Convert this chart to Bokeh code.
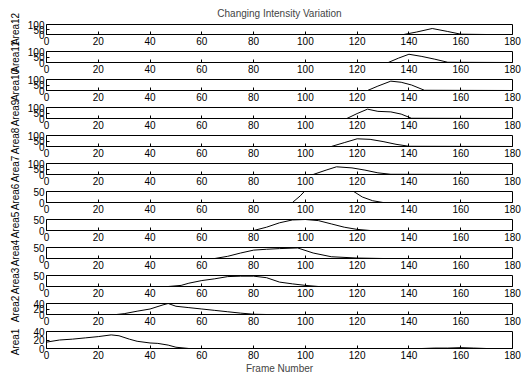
import math
from bokeh.plotting import figure
from bokeh.layouts import column, row
from bokeh.models import Range1d, FixedTicker
from bokeh.embed import file_html
from bokeh.resources import INLINE
from bokeh.core.properties import value

# ---------------- data ----------------
title_text = "Changing Intensity Variation"
x_label = "Frame Number"
x_ticks = [0, 20, 40, 60, 80, 100, 120, 140, 160, 180]

area12_x = [0, 130, 138, 143, 149, 155, 160, 170, 180]
area12_y = [0, 0, 0, 25, 60, 30, 3, 0, 0]
area11_x = [0, 132, 136, 140, 145, 150, 155, 180]
area11_y = [0, 0, 40, 75, 55, 30, 2, 0]
area10_x = [0, 124, 128, 133, 137, 141, 146, 180]
area10_y = [0, 0, 40, 85, 75, 50, 2, 0]
area9_x = [0, 116, 120, 124, 128, 133, 137, 141, 180]
area9_y = [0, 0, 45, 85, 65, 60, 40, 2, 0]
area8_x = [0, 110, 115, 120, 125, 130, 135, 140, 180]
area8_y = [0, 0, 35, 70, 65, 45, 20, 2, 0]
area7_x = [0, 103, 108, 112, 118, 123, 128, 133, 180]
area7_y = [0, 0, 40, 70, 60, 40, 15, 2, 0]
area6_x = [0, 95, 98, 100, 105, 110, 115, 118, 122, 126, 130, 180]
area6_y = [0, 0, 30, 55, 80, 90, 75, 55, 25, 8, 0, 0]
area5_x = [0, 80, 85, 90, 95, 100, 105, 110, 115, 120, 125, 180]
area5_y = [0, 0, 15, 35, 48, 50, 45, 30, 15, 5, 0, 0]
area4_x = [0, 65, 70, 75, 80, 85, 90, 97, 103, 110, 120, 130, 180]
area4_y = [0, 0, 10, 25, 38, 42, 45, 48, 25, 8, 2, 0, 0]
area3_x = [0, 47, 52, 55, 60, 65, 70, 75, 80, 85, 90, 95, 100, 105, 180]
area3_y = [0, 0, 5, 15, 27, 35, 45, 47, 47, 40, 20, 12, 5, 0, 0]
area2_x = [0, 27, 30, 35, 40, 45, 47, 50, 55, 60, 65, 70, 75, 80, 85, 180]
area2_y = [0, 0, 3, 12, 20, 35, 40, 30, 25, 20, 15, 10, 5, 1, 0, 0]
area1_x = [0, 5, 10, 15, 20, 25, 28, 32, 35, 40, 43, 47, 50, 55, 145, 150, 155, 160, 165, 170, 180]
area1_y = [15, 20, 22, 25, 28, 32, 30, 22, 17, 13, 12, 8, 3, 0, 0, 1, 1, 2, 1, 0, 0]

area_names = ["Area12", "Area11", "Area10", "Area9", "Area8", "Area7",
              "Area6", "Area5", "Area4", "Area3", "Area2", "Area1"]
area_xs = [area12_x, area11_x, area10_x, area9_x, area8_x, area7_x,
           area6_x, area5_x, area4_x, area3_x, area2_x, area1_x]
area_ys = [area12_y, area11_y, area10_y, area9_y, area8_y, area7_y,
           area6_y, area5_y, area4_y, area3_y, area2_y, area1_y]
y_limits = [(0, 100)] * 6 + [(0, 50)] * 4 + [(0, 40)] * 2
y_tick_sets = [[0, 50, 100]] * 6 + [[0, 50]] * 4 + [[0, 20, 40]] * 2

# ---------------- layout ----------------
FONT = "Liberation Sans"
FS = "10px"
LABEL_W = 24
PANEL_W = 521 - LABEL_W
BL, BR = 20, 9


def style_axis(ax):
    ax.major_tick_in = 3
    ax.major_tick_out = 0
    ax.minor_tick_in = 0
    ax.minor_tick_out = 0
    ax.axis_line_color = None
    ax.major_tick_line_color = "black"
    ax.major_label_text_font = FONT
    ax.major_label_text_font_size = FS
    ax.major_label_text_color = "black"
    ax.major_label_standoff = 2


panels = []
centers = []
cur = 0
n = len(area_names)
for i in range(n):
    first = (i == 0)
    last = (i == n - 1)
    top = 23 if first else 4
    frame_h = 21 if last else 11
    bottom = 24 if last else 13
    h = top + frame_h + bottom
    centers.append(cur + top + frame_h / 2.0)
    cur += h

    p = figure(width=PANEL_W, height=h,
               x_range=Range1d(0, 180), y_range=Range1d(*y_limits[i]),
               toolbar_location=None, output_backend="svg",
               min_border_left=BL, min_border_right=BR,
               min_border_top=top, min_border_bottom=bottom,
               title=title_text if first else None)
    p.line(area_xs[i], area_ys[i], line_color="black", line_width=1)
    p.grid.visible = False
    p.outline_line_color = "black"
    p.outline_line_width = 1
    p.background_fill_color = "white"
    p.border_fill_color = "white"

    xa = p.xaxis[0]
    ya = p.yaxis[0]
    style_axis(xa)
    style_axis(ya)
    xa.ticker = FixedTicker(ticks=x_ticks)
    ya.ticker = FixedTicker(ticks=y_tick_sets[i])

    if first:
        p.title.align = "center"
        p.title.text_font = FONT
        p.title.text_font_size = FS
        p.title.text_font_style = "normal"
        p.title.standoff = 11
    if last:
        xa.axis_label = x_label
        xa.axis_label_text_font = FONT
        xa.axis_label_text_font_size = FS
        xa.axis_label_text_font_style = "normal"
        xa.axis_label_standoff = 1
    panels.append(p)

total_h = cur
lab = figure(width=LABEL_W, height=total_h,
             x_range=Range1d(0, LABEL_W), y_range=Range1d(total_h, 0),
             toolbar_location=None, output_backend="svg",
             x_axis_location=None, y_axis_location=None,
             min_border=0)
lab.grid.visible = False
lab.outline_line_color = None
lab.text(x=[15] * n, y=centers, text=area_names, angle=math.pi / 2,
         text_font=value(FONT), text_font_size=FS, text_color="black",
         text_align="center", text_baseline="middle")

layout = row(lab, column(*panels, spacing=0), spacing=0)

open("out.html", "w").write(file_html(layout, INLINE))
